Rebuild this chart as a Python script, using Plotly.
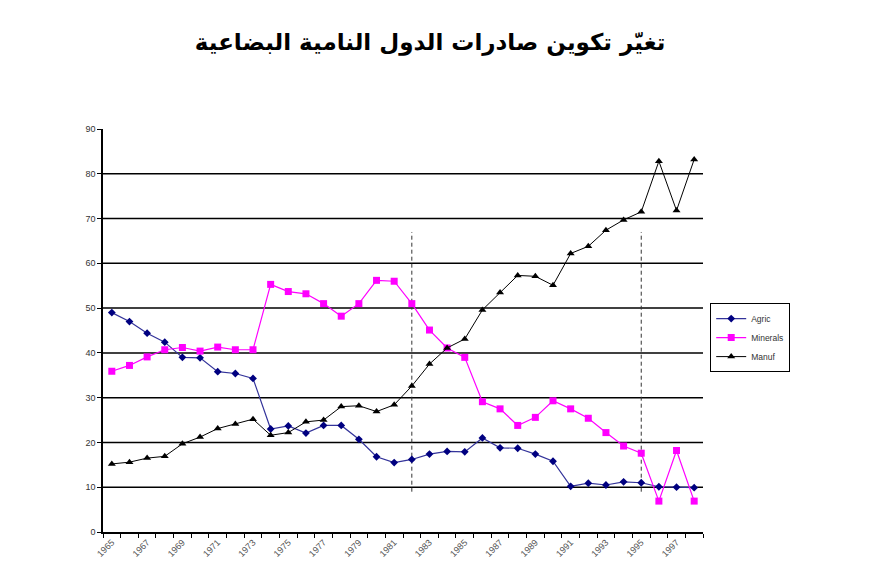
import plotly.graph_objects as go

# Donnees (part en % des exportations)
annees = list(range(1965, 1999))

agric = [49.0, 47.0, 44.4, 42.4, 39.0, 38.9, 35.8, 35.4, 34.3, 23.0,
         23.7, 22.1, 23.8, 23.8, 20.7, 16.8, 15.5, 16.2, 17.4, 18.0,
         17.9, 21.0, 18.8, 18.7, 17.4, 15.8, 10.2, 10.9, 10.5, 11.2,
         11.0, 10.1, 10.0, 9.9]

minerals = [35.9, 37.2, 39.1, 40.7, 41.2, 40.4, 41.3, 40.7, 40.7, 55.3,
            53.7, 53.2, 51.0, 48.2, 51.0, 56.2, 56.0, 51.0, 45.1, 41.1,
            39.0, 29.1, 27.5, 23.8, 25.6, 29.3, 27.5, 25.4, 22.2, 19.2,
            17.6, 6.9, 18.2, 6.9]

manuf = [15.2, 15.6, 16.5, 16.9, 19.7, 21.2, 23.1, 24.1, 25.2, 21.6,
         22.2, 24.6, 25.0, 28.0, 28.2, 26.9, 28.4, 32.6, 37.5, 41.1,
         43.1, 49.6, 53.5, 57.3, 57.1, 55.1, 62.2, 63.8, 67.4, 69.7,
         71.5, 82.8, 71.8, 83.2]

annees_reperes = [1982, 1995]
bornes_reperes = [9, 67]

lignes_grille = [10, 20, 30, 40, 50, 60, 70, 80]
graduations_y = [0, 10, 20, 30, 40, 50, 60, 70, 80, 90]
etiquettes_x = list(range(1965, 1999, 2))

titre = "تغيّر تكوين صادرات الدول النامية البضاعية"

fig = go.Figure()

# lignes verticales en pointilles
for annee in annees_reperes:
    fig.add_trace(go.Scatter(
        x=[annee, annee], y=bornes_reperes, mode="lines",
        line={"color": "#333333", "width": 1, "dash": "4px,3px"},
        showlegend=False, hoverinfo="skip",
    ))

fig.add_trace(go.Scatter(
    x=annees, y=agric, mode="lines+markers", name="Agric",
    line={"color": "#33339a", "width": 1.2},
    marker={"symbol": "diamond", "size": 6, "color": "#000080"},
))
fig.add_trace(go.Scatter(
    x=annees, y=minerals, mode="lines+markers", name="Minerals",
    line={"color": "#FF00FF", "width": 1.2},
    marker={"symbol": "square", "size": 7, "color": "#FF00FF"},
))
fig.add_trace(go.Scatter(
    x=annees, y=manuf, mode="lines+markers", name="Manuf",
    line={"color": "#000000", "width": 1},
    marker={"symbol": "triangle-up", "size": 7, "color": "#000000"},
))

for v in lignes_grille:
    fig.add_shape(type="line", xref="paper", yref="y", x0=0, x1=1, y0=v, y1=v,
                  line={"color": "black", "width": 1.5}, layer="below")

# la page ajoute une marge de 8 px autour de la figure
fig.update_layout(
    width=872,
    height=575,
    margin={"l": 95, "r": 177, "t": 121, "b": 51},
    paper_bgcolor="white",
    plot_bgcolor="white",
    font={"family": "Liberation Sans, Arial, sans-serif", "size": 9, "color": "#333333"},
    title={
        "text": "<b>" + titre + "</b>",
        "x": 0.484, "xanchor": "center", "y": 0.941, "yanchor": "middle",
        "font": {"family": "DejaVu Sans", "size": 23, "color": "black"},
    },
    legend={
        "x": 1.012, "y": 0.568, "xanchor": "left", "yanchor": "top",
        "bordercolor": "black", "borderwidth": 1,
        "font": {"size": 8.5, "color": "#333333"},
        "tracegroupgap": 0, "itemwidth": 30,
    },
    showlegend=True,
)

fig.update_xaxes(
    range=[1964.5, 1998.5],
    tickvals=etiquettes_x,
    ticktext=[str(a) for a in etiquettes_x],
    tickangle=-45,
    ticks="",
    showgrid=False,
    zeroline=False,
    showline=True, linecolor="black", linewidth=1.5,
    tickfont={"size": 9, "color": "#555555"},
    minor={"tick0": 1964.5, "dtick": 1, "ticks": "outside", "ticklen": 4,
           "tickcolor": "black", "showgrid": False},
)
fig.update_yaxes(
    range=[0, 90],
    tickvals=graduations_y,
    ticks="outside", ticklen=4, tickcolor="black",
    showgrid=False,
    zeroline=False,
    showline=True, linecolor="black", linewidth=1.5,
    tickfont={"size": 9, "color": "#333333"},
)

fig.write_html("out.html")
